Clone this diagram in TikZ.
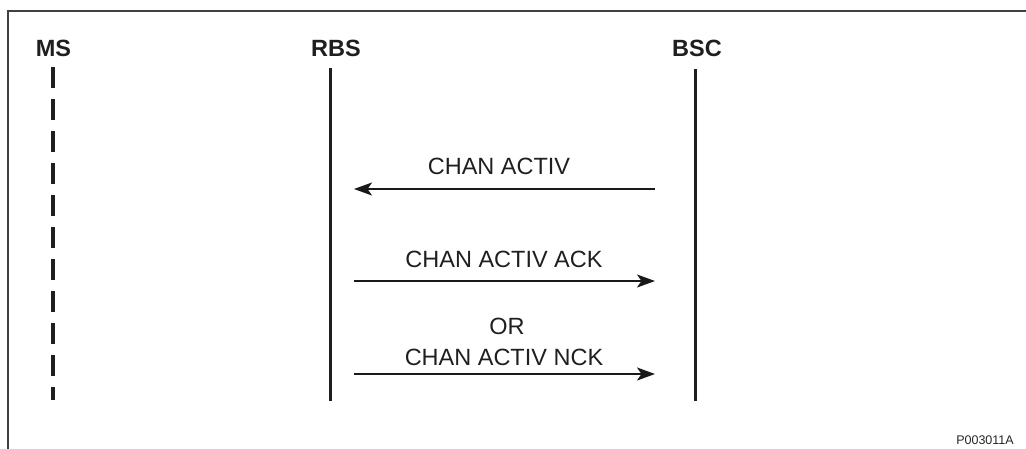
\documentclass[tikz,border=0pt]{standalone}
\usepackage{fontspec}
\setmainfont{Liberation Sans}
\usetikzlibrary{arrows.meta}
\begin{document}
\begin{tikzpicture}[x=1pt,y=-1pt,
  frameline/.style={line width=1.8pt,draw=black!75},
  lifeline/.style={line width=3pt,draw=black!88},
  msline/.style={line width=3.8pt,draw=black!88,dash pattern=on 21pt off 11pt},
  msg/.style={line width=2.2pt,draw=black!90,-{Stealth[length=18pt,width=13pt,inset=4.5pt]}},
  head/.style={font=\fontsize{23.5}{25}\selectfont\bfseries,inner sep=0pt,text=black!88},
  lbl/.style={font=\fontsize{23.5}{25}\selectfont,inner sep=0pt,text=black!88},
  ref/.style={font=\fontsize{12.5}{14}\selectfont,inner sep=0pt,text=black!85}]
\useasboundingbox (0,0) rectangle (1026,448);
% frame (only top and left visible)
\draw[frameline] (8,460) -- (8,11) -- (1040,11);
% headers
\node[head] (ms) at (53.5,48) {MS};
\node[head] (rbs) at (336,48) {RBS};
\node[head] (bsc) at (697,48) {BSC};
% lifelines
\coordinate (mst) at (53,67);
\coordinate (msb) at (53,400);
\coordinate (rbst) at (330,68);
\coordinate (rbsb) at (330,401);
\coordinate (bsct) at (695,69);
\coordinate (bscb) at (695,401);
\draw[msline] (mst) -- (msb);
\draw[lifeline] (rbst) -- (rbsb);
\draw[lifeline] (bsct) -- (bscb);
% messages
\coordinate (a1s) at (655,189);
\coordinate (a1e) at (354,189);
\coordinate (a2s) at (354,281);
\coordinate (a2e) at (655,281);
\coordinate (a3s) at (354,374);
\coordinate (a3e) at (655,374);
\draw[msg] (a1s) -- (a1e);
\draw[msg] (a2s) -- (a2e);
\draw[msg] (a3s) -- (a3e);
\node[lbl] (l1) at (499,166) {CHAN ACTIV};
\node[lbl] (l2) at (504,259) {CHAN ACTIV ACK};
\node[lbl] (l3) at (507,326) {OR};
\node[lbl] (l4) at (504,357) {CHAN ACTIV NCK};
\node[ref] (pid) at (985,440) {P003011A};
\end{tikzpicture}
\end{document}
